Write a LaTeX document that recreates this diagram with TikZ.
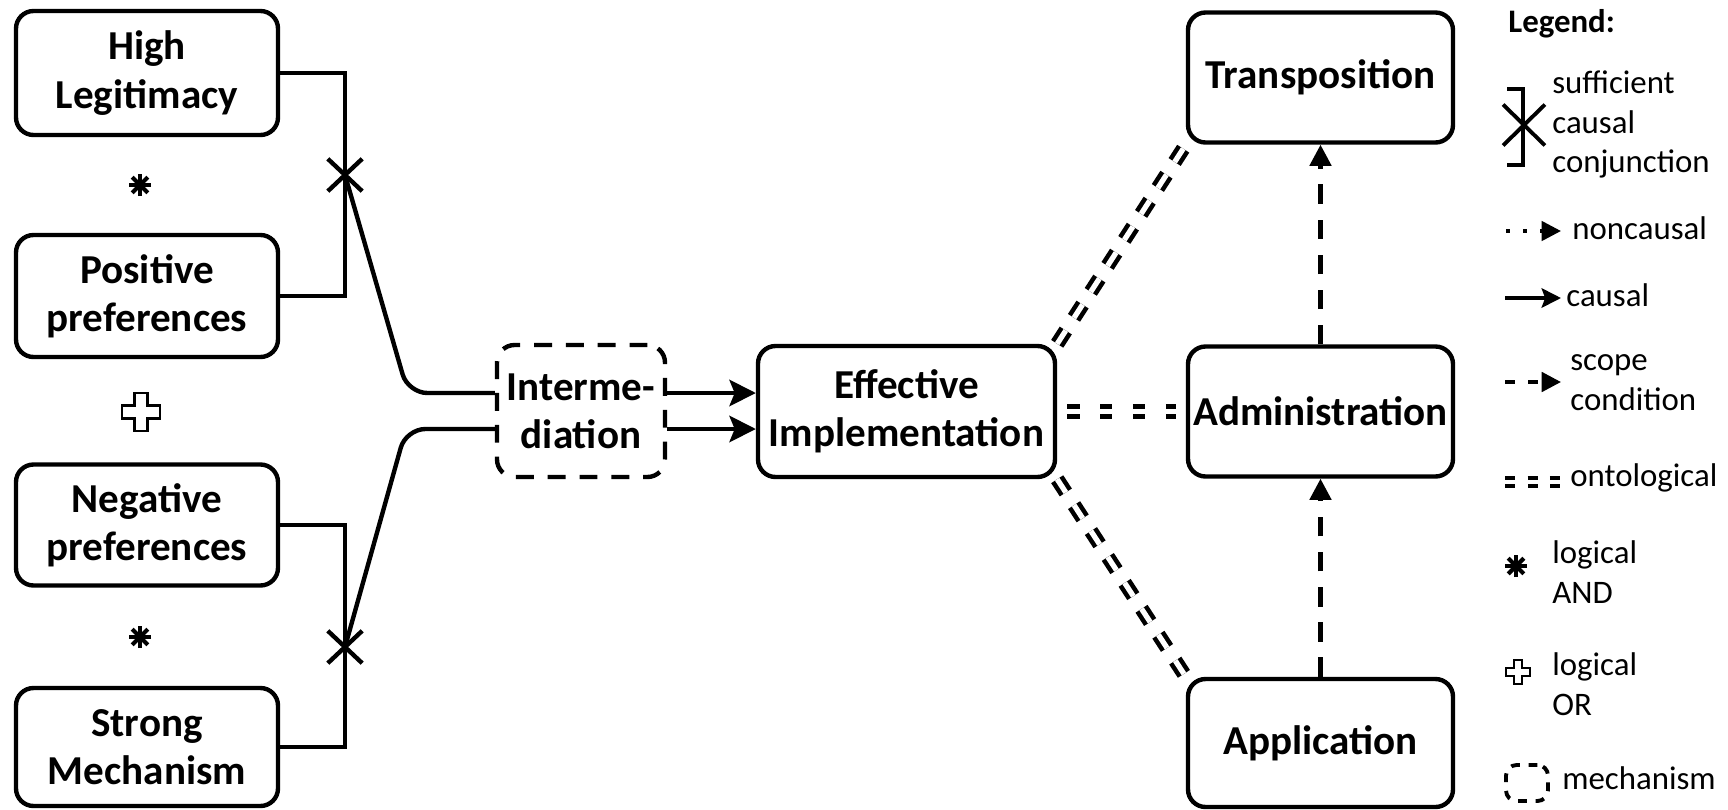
\documentclass[tikz,border=0pt]{standalone}
\usepackage{fontspec}
\setmainfont{Carlito}
\usetikzlibrary{arrows.meta,shapes.misc,calc}
\newdimen\pxu
\pxu=0.02cm
\begin{document}
\begin{tikzpicture}[x=0.02cm,y=-0.02cm,
  box/.style={draw, line width=2.5pt, rounded corners=10pt, align=center, inner sep=0pt,
    minimum width=265\pxu, minimum height=130\pxu,
    font=\bfseries\fontsize{23.4pt}{27.4pt}\selectfont},
  conn/.style={line width=2.5pt},
  causal/.style={conn, -{Stealth[length=15pt,width=15pt,inset=3pt]}},
  scopearrow/.style={conn, dash pattern=on 11pt off 9pt, -{Triangle[length=12pt,width=12pt]}},
  onto/.style={line width=2.6pt, double, double distance=3pt, dash pattern=on 7pt off 11.7pt},
  ontodiag/.style={onto, dash pattern=on 9pt off 8.6pt},
  xmark/.style={cross out, draw, line width=2.5pt, inner sep=0pt, minimum width=30\pxu, minimum height=28\pxu},
  legtext/.style={font=\fontsize{18.7pt}{22.7pt}\selectfont, inner sep=0pt, align=left},
  andstar/.pic={\foreach \a/\b in {0/180,45/225,90/270,135/315}{\draw[line width=2.4pt] (\a:11) -- (\b:11);}},
  orplus/.pic={\draw[line width=1.2pt, fill=white] (-6.5,-19) -- (6.5,-19) -- (6.5,-6.5) -- (19,-6.5) -- (19,6.5) -- (6.5,6.5) -- (6.5,19) -- (-6.5,19) -- (-6.5,6.5) -- (-19,6.5) -- (-19,-6.5) -- (-6.5,-6.5) -- cycle;}
]
\useasboundingbox (0,0) rectangle (1728,809);

% left boxes
\node[box, minimum width=262\pxu, minimum height=124\pxu] (hl) at (147,73) {High\\Legitimacy};
\node[box, minimum width=262\pxu, minimum height=122\pxu] (pp) at (147,296) {Positive\\preferences};
\node[box, minimum width=262\pxu, minimum height=121\pxu] (np) at (147,525) {Negative\\preferences};
\node[box, minimum width=262\pxu, minimum height=118\pxu] (sm) at (147,747) {Strong\\Mechanism};

\pic at (140,185) {andstar};
\pic at (141,412) {orplus};
\pic at (140,637) {andstar};

% conjunction brackets
\coordinate (x1) at (345,175);
\coordinate (x2) at (345,647);
\coordinate (c1) at (408,393);
\coordinate (c2) at (406,429);
\draw[conn] (hl.east) -| (x1) |- (pp.east);
\draw[conn] (np.east) -| (x2) |- (sm.east);
\node[xmark] (xm1) at (x1) {};
\node[xmark] (xm2) at (x2) {};

% mechanism and outcome
\node[box, minimum width=168\pxu, minimum height=132\pxu, dash pattern=on 10.2pt off 7.9pt] (inter) at (581,411) {Interme-\\diation};
\node[box, minimum width=297\pxu, minimum height=131\pxu] (ei) at (906.5,411.5) {Effective\\Implementation};

\draw[conn, rounded corners=11pt] (x1) -- (c1) -- (c1 -| inter.west);
\draw[conn, rounded corners=11pt] (x2) -- (c2) -- (c2 -| inter.west);
\draw[causal] (c1 -| inter.east) -- (c1 -| ei.west);
\draw[causal] (c2 -| inter.east) -- (c2 -| ei.west);

% right boxes
\node[box] (tr) at (1320.5,77.5) {Transposition};
\node[box] (adm) at (1320.5,411.5) {Administration};
\node[box, minimum height=128\pxu] (app) at (1320.5,743) {Application};

\draw[onto, shorten <=5.7pt, shorten >=5.7pt] (ei.east) -- (adm.west);
\draw[ontodiag] (ei.north east) -- (tr.south west);
\draw[ontodiag] (ei.south east) -- (app.north west);
\draw[scopearrow] (adm.north) -- (tr.south);
\draw[scopearrow] (app.north) -- (adm.south);

% legend
\node[legtext, font=\bfseries\fontsize{18.7pt}{22.7pt}\selectfont, anchor=base west] (lt) at (1508,32) {Legend:};

\coordinate (b1) at (1507,89);
\coordinate (b2) at (1523,89);
\coordinate (b3) at (1523,165);
\coordinate (b4) at (1507,165);
\draw[line width=2.2pt] (b1) -- (b2) -- (b3) -- (b4);
\node[xmark, minimum width=38\pxu, minimum height=37\pxu, line width=2.2pt] (lx) at (1524,125) {};
\node[legtext, anchor=west] (l1) at (1552,124.5) {sufficient\\causal\\conjunction};

\coordinate (n1) at (1506,231);
\coordinate (n2) at (1561,231);
\draw[line width=2pt, dash pattern=on 2pt off 7.7pt, -{Triangle[length=11pt,width=11pt]}] (n1) -- (n2);
\node[legtext, anchor=base west] (l2) at (1572,239) {noncausal};

\coordinate (ca1) at (1505,298);
\coordinate (ca2) at (1561,298);
\draw[line width=2.2pt, -{Stealth[length=11pt,width=11pt,inset=2pt]}] (ca1) -- (ca2);
\node[legtext, anchor=base west] (l3) at (1566,306) {causal};

\coordinate (s1) at (1505,382);
\coordinate (s2) at (1561,382);
\draw[line width=2.2pt, dash pattern=on 5.7pt off 7.4pt, -{Triangle[length=11pt,width=11pt]}] (s1) -- (s2);
\node[legtext, anchor=west] (l4) at (1570,383) {scope\\condition};

\coordinate (o1) at (1505,482);
\coordinate (o2) at (1561,482);
\draw[onto, line width=2.2pt, double distance=2.4pt, dash pattern=on 5.7pt off 7.1pt] (o1) -- (o2);
\node[legtext, anchor=base west] (l5) at (1570,486) {ontological};

\pic at (1516,566) {andstar};
\node[legtext, anchor=west] (l6) at (1552,572) {logical\\AND};

\pic[scale=0.65] at (1518,672) {orplus};
\node[legtext, anchor=west] (l7) at (1552,684) {logical\\OR};

\node[draw, line width=2.2pt, rounded corners=6pt, dash pattern=on 5pt off 5pt, minimum width=42\pxu, minimum height=36\pxu, inner sep=0pt] (lm) at (1527,783) {};
\node[legtext, anchor=base west] (l8) at (1562,789) {mechanism};
\end{tikzpicture}
\end{document}
